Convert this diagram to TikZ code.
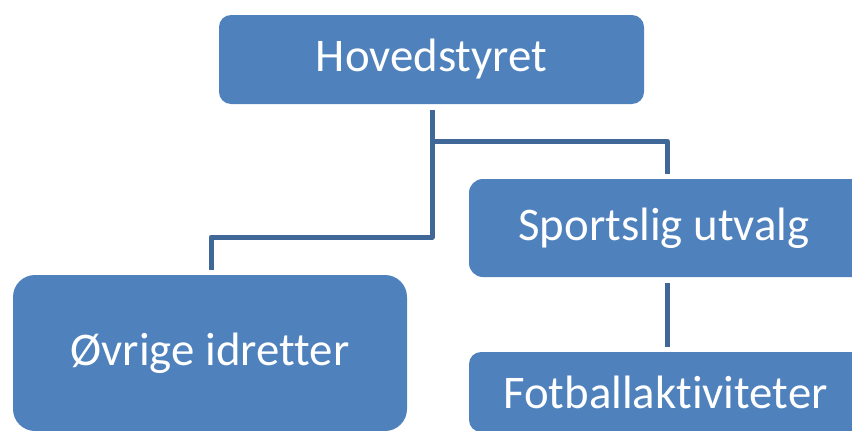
\documentclass[tikz,border=0pt]{standalone}
\usepackage{fontspec}
\setmainfont{Carlito}[Ligatures=NoCommon]
\usetikzlibrary{calc}
\definecolor{boxblue}{HTML}{4F81BD}
\definecolor{linkblue}{HTML}{3F6797}
\begin{document}
\begin{tikzpicture}[x=1pt,y=-1pt,
  orgbox/.style={rectangle, fill=boxblue, text=white, inner sep=0pt,
    font=\fontsize{46.8}{56}\selectfont},
  link/.style={draw=linkblue, line width=5pt, line join=round}]
\useasboundingbox (0,0) rectangle (852,431);
\node[orgbox, rounded corners=12pt, minimum width=425pt, minimum height=89pt] (h) at (431.5,59.5) {Hovedstyret};
\node[orgbox, rounded corners=14pt, minimum width=430pt, minimum height=98pt] (s) at (684,228) {Sportslig utvalg\hspace*{40pt}};
\node[orgbox, rounded corners=22pt, minimum width=394pt, minimum height=156pt] (o) at (210,353) {Øvrige idretter};
\node[orgbox, rounded corners=12pt, minimum width=431pt, minimum height=80pt] (f) at (684.5,392) {Fotballaktiviteter\hspace*{38pt}};
\coordinate (hs) at ($(h.south)+(0.5,6)$);
\coordinate (j1) at (432,141);
\coordinate (j2) at (432,237);
\coordinate (sp) at (667,174);
\coordinate (op) at (211,270);
\draw[link] (hs) -- (j2) -| (op);
\draw[link] (j1) -| (sp);
\draw[link] ($(s.south)+(-17,6)$) -- ($(f.north)+(-17.5,-5)$);
\end{tikzpicture}
\end{document}
